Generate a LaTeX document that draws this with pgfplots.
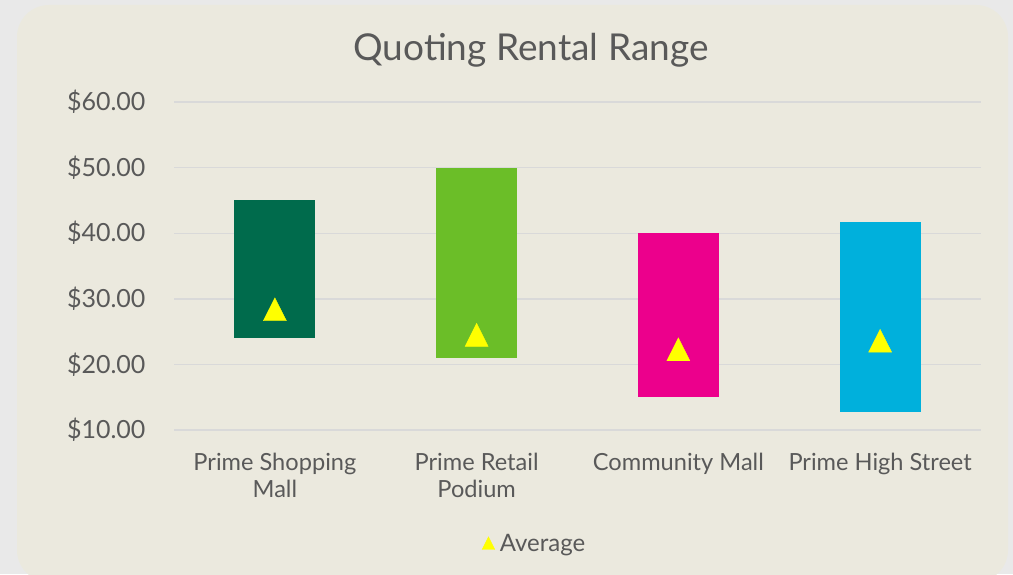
\documentclass[border=0pt]{standalone}
\usepackage{pgfplots}
\pgfplotsset{compat=1.18}
\usepackage{pgfplotstable}
\usepackage{fontspec}
\setmainfont{Lato}
\definecolor{outergray}{RGB}{233,233,233}
\definecolor{beige}{RGB}{235,233,222}
\definecolor{txt}{RGB}{89,89,89}
\definecolor{gridc}{RGB}{217,217,217}
\definecolor{cA}{RGB}{0,107,76}
\definecolor{cB}{RGB}{107,190,40}
\definecolor{cC}{RGB}{236,0,140}
\definecolor{cD}{RGB}{0,176,220}
\definecolor{avgc}{RGB}{255,255,0}

\pgfplotstableread{
x low high avg
0 24 45 28.4
1 21 50 24.5
2 15 40 22.3
3 12.7 41.7 23.6
}\data

\begin{document}
\begin{tikzpicture}
\useasboundingbox (0pt,0pt) rectangle (1013pt,574pt);
\clip (0pt,0pt) rectangle (1013pt,574pt);
\fill[outergray] (0pt,0pt) rectangle (1013pt,574pt);
\fill[beige, rounded corners=32pt] (17pt,-8pt) rectangle (1008pt,569pt);
\node[text=txt, font=\fontsize{37}{40}\selectfont] at (531pt,524pt) {Quoting Rental Range};

\begin{axis}[
  at={(174pt,144pt)}, anchor=south west,
  scale only axis, width=807pt, height=328pt,
  ybar stacked, bar width=81pt,
  xmin=-0.5, xmax=3.5, ymin=10, ymax=60,
  ytick={10,20,30,40,50,60},
  xtick={0,1,2,3},
  xticklabels={Prime Shopping\\Mall, Prime Retail\\Podium, Community Mall, Prime High Street},
  axis line style={draw=none},
  major tick length=0pt,
  ymajorgrids, grid style={gridc, line width=1.4pt},
  /pgf/number format/assume math mode=true,
  yticklabel={\$\pgfmathprintnumber[fixed,fixed zerofill,precision=2]{\tick}},
  yticklabel style={text=txt, font=\fontsize{25}{26}\selectfont, anchor=east, xshift=-25pt},
  xticklabel style={text=txt, font=\fontsize{23.6}{27}\selectfont, align=center, anchor=north, yshift=-20pt},
  clip=false,
]
\addplot[draw=none, fill=none] table[x=x, y=low]{\data};
\addplot[draw=none, fill=cA] table[x=x, y expr={\coordindex==0 ? \thisrow{high}-\thisrow{low} : 0}]{\data};
\addplot[draw=none, fill=cB] table[x=x, y expr={\coordindex==1 ? \thisrow{high}-\thisrow{low} : 0}]{\data};
\addplot[draw=none, fill=cC] table[x=x, y expr={\coordindex==2 ? \thisrow{high}-\thisrow{low} : 0}]{\data};
\addplot[draw=none, fill=cD] table[x=x, y expr={\coordindex==3 ? \thisrow{high}-\thisrow{low} : 0}]{\data};
\end{axis}

\begin{axis}[
  at={(174pt,144pt)}, anchor=south west,
  scale only axis, width=807pt, height=328pt,
  xmin=-0.5, xmax=3.5, ymin=10, ymax=60,
  axis lines=none, ticks=none,
  clip=false,
  legend style={at={(0.447,-0.345)}, anchor=center, draw=none, fill=none,
    text=txt, font=\fontsize{24}{26}\selectfont},
  legend image post style={scale=0.55},
]
\addplot[only marks, mark=triangle*, mark size=15.3pt, color=avgc,
  mark options={yshift=-3.8pt, xscale=0.87}] table[x=x, y=avg]{\data};
\addlegendentry{\hspace{3pt}Average}
\end{axis}
\end{tikzpicture}
\end{document}
